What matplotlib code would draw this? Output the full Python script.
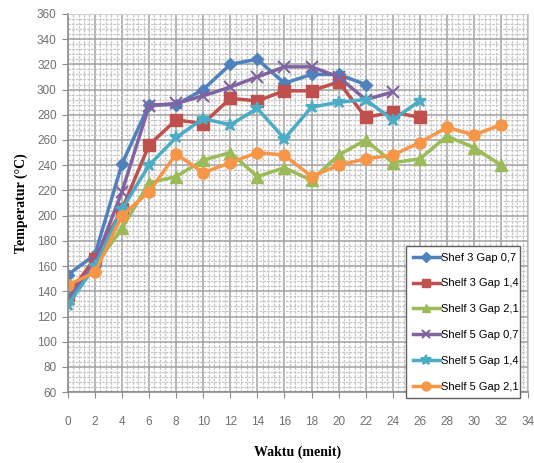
import numpy as np
import matplotlib.pyplot as plt
from matplotlib.ticker import MultipleLocator, AutoMinorLocator

# ── data ─────────────────────────────────────────────
waktu = [0, 2, 4, 6, 8, 10, 12, 14, 16, 18, 20, 22, 24, 26, 28, 30, 32]

s3_g07 = [153, 169, 241, 288, 288, 300, 320, 324, 305, 312, 312, 304]
s3_g14 = [137, 166, 205, 256, 276, 273, 293, 291, 299, 299, 306, 278, 282, 278]
s3_g21 = [135, 160, 190, 226, 231, 244, 250, 231, 238, 228, 248, 260, 242, 245, 263, 254, 240]
s5_g07 = [134, 163, 219, 287, 289, 295, 302, 310, 318, 318, 310, 292, 298]
s5_g14 = [129, 160, 205, 240, 262, 277, 272, 285, 261, 286, 290, 292, 276, 291]
s5_g21 = [145, 155, 200, 219, 249, 234, 242, 250, 248, 231, 240, 245, 248, 258, 270, 264, 272]

labels = ["Shef 3 Gap 0,7", "Shelf 3 Gap 1,4", "Shelf 3 Gap 2,1",
          "Shelf 5 Gap 0,7", "Shelf 5 Gap 1,4", "Shelf 5 Gap 2,1"]
series = [s3_g07, s3_g14, s3_g21, s5_g07, s5_g14, s5_g21]
colors = ["#4F81BD", "#C0504D", "#9BBB59", "#8064A2", "#4BACC6", "#F79646"]
markers = ["D", "s", "^", "x", "*", "o"]
msizes = [6, 8, 8, 8, 9, 8]

fig = plt.figure(figsize=(5.34, 4.63), dpi=100)
ax = fig.add_axes([0.127, 0.153, 0.862, 0.817])

for ys, lab, c, m, ms in zip(series, labels, colors, markers, msizes):
    ax.plot(waktu[:len(ys)], ys, color=c, marker=m, markersize=ms, linewidth=2.5,
            markeredgewidth=1.5 if m in ("x", "*") else 1, label=lab)

ax.set_xlim(0, 34)
ax.set_ylim(60, 360)
ax.xaxis.set_major_locator(MultipleLocator(2))
ax.yaxis.set_major_locator(MultipleLocator(20))
ax.xaxis.set_minor_locator(AutoMinorLocator(5))
ax.yaxis.set_minor_locator(AutoMinorLocator(5))
ax.grid(which="major", color="#a0a0a0", linewidth=1.1)
ax.grid(which="minor", color="#c4c4c4", linewidth=0.9, linestyle=(0, (2, 1)))
ax.set_axisbelow(True)

for s in ["top", "right"]:
    ax.spines[s].set_color("#d0d0d0")
for s in ["left", "bottom"]:
    ax.spines[s].set_color("#8c8c8c")
    ax.spines[s].set_linewidth(1.2)

ax.tick_params(which="minor", length=0)
ax.tick_params(axis="x", which="major", length=4, color="#8c8c8c", pad=13,
               labelsize=8.5, labelcolor="#707070")
ax.tick_params(axis="y", which="major", length=4, color="#8c8c8c", pad=4,
               labelsize=8.5, labelcolor="#707070")
for t in ax.get_xticklabels() + ax.get_yticklabels():
    t.set_fontfamily("Liberation Sans")

ax.set_xlabel("Waktu (menit)", fontfamily="Liberation Serif", fontweight="bold",
              fontsize=10, labelpad=13)
ax.set_ylabel("Temperatur (°C)", fontfamily="Liberation Serif", fontweight="bold",
              fontsize=10, labelpad=6)

leg = ax.legend(loc="lower left", bbox_to_anchor=(0.760, 0.140, 0.214, 0.328),
                bbox_transform=fig.transFigure, mode="expand", borderaxespad=0,
                prop={"family": "Liberation Sans", "size": 8},
                handlelength=2.5, handletextpad=0.1, labelspacing=1.42,
                borderpad=0.6, fancybox=False, framealpha=1, edgecolor="#606060",
                markerscale=0.8)
leg.get_frame().set_linewidth(1.0)

fig.savefig("out.png", dpi=100)
